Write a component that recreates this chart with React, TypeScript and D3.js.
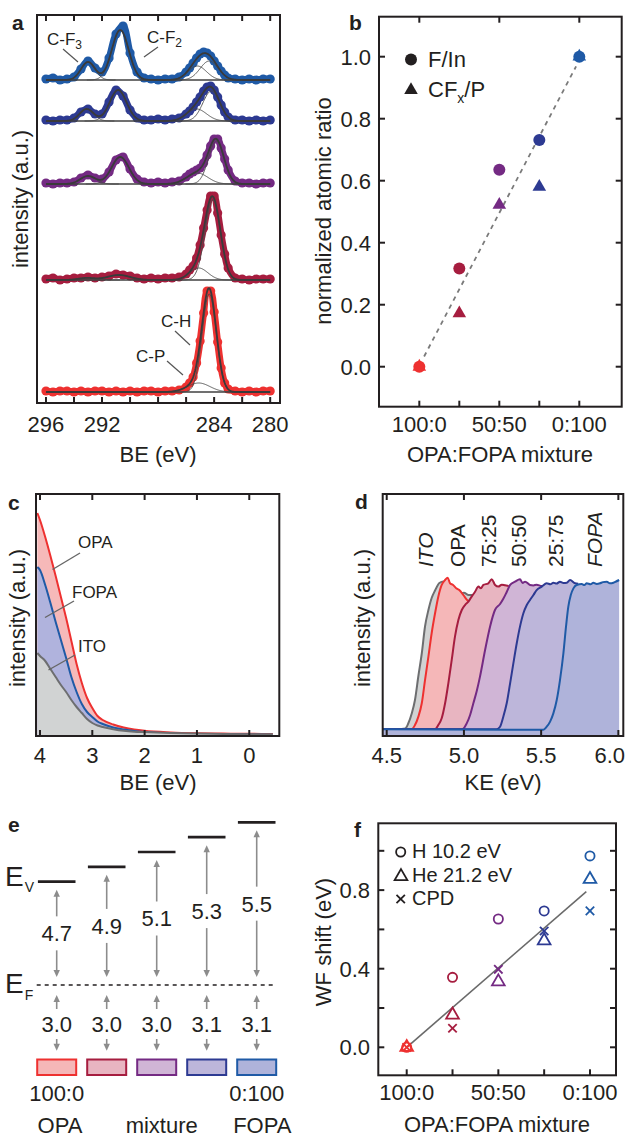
import React from 'react';
import * as d3 from 'd3';

const FONT = "'Liberation Sans', Arial, Helvetica, sans-serif";
const INK = '#231f20';

// ---------- shared colours (OPA -> FOPA) ----------
const seriesStroke = ['#ee3130', '#a61d3f', '#742a83', '#2d3a92', '#1f5aa6'];
const seriesFill = ['#f5b7b8', '#e8b5c1', '#d0b5d6', '#bdb6da', '#afb3da'];
const itoStroke = '#6d6e70';
const itoFill = '#d1d3d3';

// ---------- panel a : C1s XPS ----------
const beGrid = [296, 295.5, 295, 294.5, 294, 293.5, 293, 292.5, 292, 291.5, 291, 290.5, 290, 289.5, 289, 288.5, 288, 287.5, 287, 286.5, 286,
  285.75, 285.5, 285.25, 285, 284.75, 284.5, 284.25, 284, 283.75, 283.5, 283.25, 283, 282.5, 282, 281.5, 281, 280.5, 280];
const xpsFOPA = [1, 2, 0, 1, 3, 11, 19, 12, 8, 22, 46, 54, 27, 8, 2, 1, 0, 1, 1, 3, 8, 12, 17, 22, 26, 28, 27, 24, 19, 14, 9, 5, 2, 1, 0, 1, 0, 1, 1];
const xps2575 = [1, 0, 1, 1, 3, 9, 12, 7, 7, 19, 31, 25, 11, 3, 1, 1, 2, 1, 2, 3, 7, 10, 14, 19, 24, 30, 34, 35, 31, 24, 16, 9, 4, 1, 1, 0, 1, 0, 1];
const xps5050 = [1, 0, 1, 1, 2, 6, 9, 6, 5, 12, 24, 27, 15, 5, 2, 1, 2, 1, 2, 3, 7, 10, 12, 14, 16, 21, 29, 38, 45, 45, 36, 25, 14, 3, 1, 1, 0, 1, 1];
const xps7525 = [1, 2, 0, 1, 2, 2, 3, 2, 3, 4, 6, 5, 4, 2, 1, 2, 1, 2, 2, 3, 6, 10, 14, 22, 35, 52, 70, 84, 84, 67, 45, 26, 12, 2, 1, 0, 1, 1, 1];
const xpsOPA = [1, 0, 1, 1, 0, 1, 0, 1, 1, 0, 1, 0, 1, 0, 1, 1, 0, 1, 1, 2, 5, 9, 15, 29, 51, 79, 101, 101, 80, 50, 24, 9, 3, 1, 0, 1, 0, 1, 1];
// fit components: [centre eV, amplitude, sigma eV]
const fitFOPA = [[293.0, 18, 0.5], [290.7, 50, 0.6], [285.2, 14, 0.65], [284.35, 19, 0.65]];
const fit2575 = [[293.1, 12, 0.5], [290.85, 31, 0.6], [285.25, 12, 0.7], [284.2, 30, 0.6]];
const fit5050 = [[293.0, 8, 0.55], [290.7, 27, 0.62], [285.2, 11, 0.75], [283.85, 43, 0.55]];
const fit7525 = [[293.1, 2, 0.6], [290.8, 5, 0.8], [285.1, 12, 0.65], [284.1, 80, 0.55]];
const fitOPA = [[285.1, 9, 0.8], [284.35, 98, 0.5]];
const stackOffsets = [323, 282, 219, 123, 11];
const aTicks = [296, 294, 292, 290, 288, 286, 284, 282, 280];
const aTickLabels = [296, 292, 284, 280];

// ---------- panel b ----------
const mixPct = [0, 25, 50, 75, 100];
const fIn = [0.0, 0.317, 0.635, 0.731, 1.0];
const cfxP = [0.0, 0.172, 0.522, 0.58, 1.0];
const bFitX = [3, 98];
const bFitY = [0.033, 0.969];
const bYTicks = [0.0, 0.2, 0.4, 0.6, 0.8, 1.0];
const mixTickLabels = ['100:0', '50:50', '0:100'];
const mixLabelPct = [0, 50, 100];

// ---------- panel c : UPS valence ----------
const beC = [4.05, 4.0, 3.9, 3.8, 3.7, 3.6, 3.5, 3.4, 3.3, 3.2, 3.1, 3.0, 2.9, 2.8, 2.6, 2.4, 2.2, 2.0, 1.5, 1.0, 0.5, 0.0, -0.45];
const opaC = [223, 216, 199, 180, 160, 139, 118, 95, 72, 53, 38, 28, 20, 16, 11.5, 8.5, 6.5, 5.2, 3.6, 2.8, 2.4, 2.2, 2];
const fopaC = [169, 166, 151, 133, 114, 96, 78, 59, 44, 32, 24, 19, 14.5, 12, 8.5, 6.5, 5, 4, 2.6, 2, 1.7, 1.5, 1.3];
const itoC = [83, 80, 75, 67, 59, 51, 44, 36, 29, 23, 17, 13, 10.5, 9, 6.8, 5.2, 4.3, 3.9, 3, 2.4, 2.1, 1.8, 1.7];
const cTicks = [4, 3, 2, 1, 0];

// ---------- panel d : secondary electron cutoff ----------
const secoITO = [[4.474, 4.5], [4.55, 4.3], [4.6, 4.7], [4.62, 5], [4.64, 8.5], [4.662, 15], [4.683, 24], [4.705, 40], [4.727, 55], [4.748, 73], [4.77, 84], [4.791, 92], [4.813, 97], [4.841, 102], [4.867, 103], [4.889, 101], [4.93, 97], [4.97, 95], [5.0, 95.5], [5.03, 94], [5.06, 94]];
const secoOPA = [[4.474, 4.5], [4.6, 4.5], [4.662, 4.6], [4.683, 7.3], [4.705, 12.9], [4.727, 21.8], [4.748, 37.3], [4.77, 52.9], [4.791, 68.5], [4.813, 81.8], [4.834, 92.9], [4.856, 100.7], [4.878, 104], [4.895, 105.5], [4.91, 101.8], [4.93, 100.7], [4.95, 98.5], [4.97, 97.3], [4.996, 94], [5.02, 90.7], [5.04, 88.5], [5.06, 87]];
const seco7525 = [[4.474, 4.5], [4.813, 4.5], [4.834, 7.3], [4.856, 11.8], [4.878, 21.8], [4.899, 35.1], [4.921, 50.7], [4.942, 66.2], [4.964, 77.3], [4.986, 84], [5.007, 87.3], [5.029, 89.6], [5.05, 92.9], [5.072, 96.2], [5.094, 99.6], [5.11, 98.5], [5.126, 100.7], [5.158, 101.8], [5.18, 104.5], [5.202, 100.7], [5.223, 99.6], [5.245, 100.9], [5.266, 100.5], [5.29, 100]];
const seco5050 = [[4.474, 4.5], [4.99, 4.5], [5.018, 8.4], [5.04, 14], [5.061, 21.8], [5.083, 30], [5.104, 39.6], [5.137, 57.3], [5.169, 72.9], [5.201, 84], [5.234, 88], [5.255, 91.5], [5.277, 96], [5.299, 100.7], [5.331, 102.9], [5.363, 104.5], [5.38, 102], [5.396, 102.9], [5.428, 100.7], [5.45, 100.4], [5.471, 100.9], [5.504, 100], [5.52, 100]];
const seco2575 = [[4.474, 4.5], [5.212, 4.5], [5.234, 6.2], [5.255, 12.9], [5.277, 21.8], [5.299, 35.1], [5.32, 48.4], [5.342, 61.8], [5.363, 72.9], [5.385, 81.8], [5.407, 87.3], [5.428, 90.7], [5.45, 94], [5.471, 97.3], [5.504, 99.6], [5.536, 101.8], [5.56, 101.2], [5.579, 102.2], [5.6, 101.6], [5.622, 102.9], [5.645, 102], [5.666, 102.2], [5.687, 104], [5.72, 101.8], [5.74, 101.5]];
const secoFOPA = [[4.474, 4.5], [5.514, 4.2], [5.536, 6.2], [5.558, 9.6], [5.579, 15.1], [5.601, 24], [5.622, 37.3], [5.644, 55.1], [5.661, 72.9], [5.676, 86.2], [5.692, 94], [5.709, 98.4], [5.73, 100.7], [5.763, 101.3], [5.78, 100.6], [5.795, 101.8], [5.82, 101.2], [5.838, 102.2], [5.86, 101.4], [5.881, 101.8], [5.9, 102.6], [5.925, 102.9], [5.945, 101.8], [5.968, 102.2], [5.985, 103], [6.005, 104]];
const dTicks = [4.5, 5.0, 5.5, 6.0];
const dTickLabels = ['4.5', '5.0', '5.5', '6.0'];
const dLabels = ['ITO', 'OPA', '75:25', '50:50', '25:75', 'FOPA'];

// ---------- panel e : energy levels ----------
const eSamples = ['100:0', '75:25', '50:50', '25:75', '0:100'];
const workFunction = [4.7, 4.9, 5.1, 5.3, 5.5];
const vbmGap = [3.0, 3.0, 3.0, 3.1, 3.1];

// ---------- panel f : WF shift ----------
const wfH = [0.0, 0.356, 0.653, 0.694, 0.974];
const wfHe = [0.0, 0.165, 0.334, 0.543, 0.855];
const wfCPD = [0.0, 0.097, 0.397, 0.592, 0.694];
const fFitX = [0, 98];
const fFitY = [0.0, 0.792];
const fYTicks = [0.0, 0.2, 0.4, 0.6, 0.8, 1.0];
const fYTickLabels = [0.0, 0.4, 0.8];

const txt = { fontFamily: FONT, fill: INK };
const TL = 6;

function gauss(e: number, comps: number[][]) {
  return comps.reduce((s, [c, a, w]) => s + a * Math.exp(-((e - c) ** 2) / (2 * w * w)), 0);
}

const Box = ({ x0, y0, x1, y1 }: any) => (
  <rect x={x0} y={y0} width={x1 - x0} height={y1 - y0} fill="none" stroke={INK} strokeWidth={2} />
);

const XTicks = ({ scale, values, y0, y1, top = true, bottom = true }: any) => (
  <g stroke={INK} strokeWidth={2}>
    {values.map((v: number, i: number) => (
      <g key={i}>
        {top && <line x1={scale(v)} x2={scale(v)} y1={y0} y2={y0 + TL} />}
        {bottom && <line x1={scale(v)} x2={scale(v)} y1={y1} y2={y1 - TL} />}
      </g>
    ))}
  </g>
);

const YTicks = ({ scale, values, x0, x1 }: any) => (
  <g stroke={INK} strokeWidth={2}>
    {values.map((v: number, i: number) => (
      <g key={i}>
        <line x1={x0} x2={x0 + TL} y1={scale(v)} y2={scale(v)} />
        <line x1={x1} x2={x1 - TL} y1={scale(v)} y2={scale(v)} />
      </g>
    ))}
  </g>
);

function PanelA() {
  const x0 = 37, x1 = 280, y0 = 15, y1 = 403;
  const x = d3.scaleLinear().domain([296.64, 279.3]).range([x0, x1]);
  const y = d3.scaleLinear().domain([0, 388]).range([y1, y0]);
  const spectra = [xpsFOPA, xps2575, xps5050, xps7525, xpsOPA];
  const fits = [fitFOPA, fit2575, fit5050, fit7525, fitOPA];
  const colors = [seriesStroke[4], seriesStroke[3], seriesStroke[2], seriesStroke[1], seriesStroke[0]];
  const fine = d3.range(296, 279.999, -0.04);
  return (
    <g>
      {spectra.map((vals, i) => {
        const off = stackOffsets[i];
        const band = d3.line<number>().x((_, j) => x(beGrid[j])).y(v => y(off + v)).curve(d3.curveCatmullRom)(vals) || '';
        const total = d3.line<number>().x(e => x(e)).y(e => y(off + gauss(e, fits[i])))(fine) || '';
        return (
          <g key={i}>
            <path d={band} fill="none" stroke={colors[i]} strokeWidth={7} strokeLinejoin="round" strokeLinecap="round" />
            {vals.map((v, j) => <circle key={j} cx={x(beGrid[j])} cy={y(off + v)} r={4.6} fill={colors[i]} />)}
            <line x1={x(296)} x2={x(280)} y1={y(off)} y2={y(off)} stroke="#404040" strokeWidth={1.6} />
            {fits[i].map((c, k) => {
              const p = d3.line<number>().x(e => x(e)).y(e => y(off + gauss(e, [c])))(fine.filter(e => Math.abs(e - c[0]) < 4 * c[2])) || '';
              return <path key={k} d={p} fill="none" stroke="#4a4a4a" strokeWidth={0.9} />;
            })}
            <path d={total} fill="none" stroke="#3a3a3a" strokeWidth={1.8} />
          </g>
        );
      })}
      <Box x0={x0} y0={y0} x1={x1} y1={y1} />
      <XTicks scale={x} values={aTicks} y0={y0} y1={y1} />
      {aTickLabels.map(v => (
        <text key={v} x={x(v)} y={431.5} textAnchor="middle" fontSize={22} {...txt}>{v}</text>
      ))}
      <text x={158} y={462} textAnchor="middle" fontSize={22} {...txt}>BE (eV)</text>
      <text transform="translate(28,199) rotate(-90)" textAnchor="middle" fontSize={22} {...txt}>intensity (a.u.)</text>
      {/* peak labels */}
      <g fontSize={17} {...txt}>
        <text x={47} y={45}>C-F<tspan fontSize={12} dy={4}>3</tspan></text>
        <text x={147} y={43}>C-F<tspan fontSize={12} dy={4}>2</tspan></text>
        <text x={161} y={327}>C-H</text>
        <text x={136} y={362}>C-P</text>
      </g>
      <g stroke="#555" strokeWidth={1.2}>
        <line x1={63} y1={49} x2={78} y2={62} />
        <line x1={158} y1={47} x2={144} y2={57} />
        <line x1={175} y1={331} x2={190} y2={345} />
        <line x1={167} y1={361} x2={183} y2={375} />
      </g>
      <text x={12} y={30} fontSize={21} fontWeight="bold" {...txt}>a</text>
    </g>
  );
}

function PanelB() {
  const x0 = 379, x1 = 621.7, y0 = 16.7, y1 = 406.7;
  const x = d3.scaleLinear().domain([-25.2, 126.5]).range([x0, x1]);
  const y = d3.scaleLinear().domain([-0.129, 1.129]).range([y1, y0]);
  const tri = d3.symbol().type(d3.symbolTriangle).size(80)() || '';
  return (
    <g>
      <line x1={x(bFitX[0])} y1={y(bFitY[0])} x2={x(bFitX[1])} y2={y(bFitY[1])} stroke="#7a7a7a" strokeWidth={1.8} strokeDasharray="4.5,4.5" />
      {mixPct.map((p, i) => <circle key={'c' + i} cx={x(p)} cy={y(fIn[i])} r={6} fill={seriesStroke[i]} />)}
      {mixPct.map((p, i) => <path key={'t' + i} d={tri} transform={`translate(${x(p)},${y(cfxP[i])})`} fill={seriesStroke[i]} />)}
      <Box x0={x0} y0={y0} x1={x1} y1={y1} />
      <XTicks scale={x} values={mixPct} y0={y0} y1={y1} top={false} />
      <XTicks scale={x} values={mixLabelPct} y0={y0} y1={y1} bottom={false} />
      <YTicks scale={y} values={bYTicks} x0={x0} x1={x1} />
      {bYTicks.map(v => (
        <text key={v} x={371} y={y(v)} dy="0.36em" textAnchor="end" fontSize={22} {...txt}>{v.toFixed(1)}</text>
      ))}
      {mixLabelPct.map((p, i) => (
        <text key={p} x={x(p)} y={431.5} textAnchor="middle" fontSize={22} {...txt}>{mixTickLabels[i]}</text>
      ))}
      <text x={500} y={462} textAnchor="middle" fontSize={22} {...txt}>OPA:FOPA mixture</text>
      <text transform="translate(331,211) rotate(-90)" textAnchor="middle" fontSize={22} {...txt}>normalized atomic ratio</text>
      <circle cx={411} cy={59.5} r={6} fill={INK} />
      <text x={428} y={67} fontSize={22} {...txt}>F/In</text>
      <path d={tri} transform="translate(411,90)" fill={INK} />
      <text x={428} y={97} fontSize={22} {...txt}>CF<tspan fontSize={14} dy={6}>x</tspan><tspan dy={-6}>/P</tspan></text>
      <text x={349} y={30} fontSize={21} fontWeight="bold" {...txt}>b</text>
    </g>
  );
}

function PanelC() {
  const x0 = 36, x1 = 279.3, y0 = 494, y1 = 736;
  const x = d3.scaleLinear().domain([4.076, -0.574]).range([x0, x1]);
  const y = d3.scaleLinear().domain([0, 242]).range([y1, y0]);
  const curves = [
    { v: opaC, fill: '#f6b9b9', stroke: seriesStroke[0] },
    { v: fopaC, fill: '#b0b3dd', stroke: seriesStroke[4] },
    { v: itoC, fill: itoFill, stroke: itoStroke },
  ];
  return (
    <g>
      {curves.map((c, i) => {
        const area = d3.area<number>().x((_, j) => x(beC[j])).y0(y(0)).y1(v => y(v)).curve(d3.curveMonotoneX)(c.v) || '';
        const line = d3.line<number>().x((_, j) => x(beC[j])).y(v => y(v)).curve(d3.curveMonotoneX)(c.v) || '';
        return (
          <g key={i}>
            <path d={area} fill={c.fill} />
            <path d={line} fill="none" stroke={c.stroke} strokeWidth={2} />
          </g>
        );
      })}
      <Box x0={x0} y0={y0} x1={x1} y1={y1} />
      <XTicks scale={x} values={cTicks} y0={y0} y1={y1} />
      {cTicks.map(v => (
        <text key={v} x={x(v)} y={763} textAnchor="middle" fontSize={22} {...txt}>{v}</text>
      ))}
      <text x={158} y={790} textAnchor="middle" fontSize={22} {...txt}>BE (eV)</text>
      <text transform="translate(25,618) rotate(-90)" textAnchor="middle" fontSize={22} {...txt}>intensity (a.u.)</text>
      <g fontSize={17} {...txt}>
        <text x={78} y={548}>OPA</text>
        <text x={72} y={598}>FOPA</text>
        <text x={78} y={652}>ITO</text>
      </g>
      <g stroke="#666" strokeWidth={1.4}>
        <line x1={80} y1={553} x2={52.5} y2={569.5} />
        <line x1={74} y1={601} x2={45} y2={617.5} />
        <line x1={75} y1={655} x2={48.5} y2={670} />
      </g>
      <text x={8} y={510} fontSize={21} fontWeight="bold" {...txt}>c</text>
    </g>
  );
}

function PanelD() {
  const x0 = 382.7, x1 = 623.3, y0 = 494, y1 = 736;
  const x = d3.scaleLinear().domain([4.474, 6.032]).range([x0, x1]);
  const y = d3.scaleLinear().domain([0, 100]).range([y1, 586]);
  const curves = [
    { d: secoITO, fill: itoFill, stroke: itoStroke },
    { d: secoOPA, fill: seriesFill[0], stroke: seriesStroke[0] },
    { d: seco7525, fill: seriesFill[1], stroke: seriesStroke[1] },
    { d: seco5050, fill: seriesFill[2], stroke: seriesStroke[2] },
    { d: seco2575, fill: seriesFill[3], stroke: seriesStroke[3] },
    { d: secoFOPA, fill: seriesFill[4], stroke: seriesStroke[4] },
  ];
  const labelKE = [4.80, 5.007, 5.207, 5.402, 5.642, 5.893];
  return (
    <g>
      {curves.map((c, i) => {
        const area = d3.area<number[]>().x(p => x(p[0])).y0(y1).y1(p => y(p[1])).curve(d3.curveMonotoneX)(c.d) || '';
        const line = d3.line<number[]>().x(p => x(p[0])).y(p => y(p[1])).curve(d3.curveMonotoneX)(c.d) || '';
        return (
          <g key={i}>
            <path d={area} fill={c.fill} />
            <path d={line} fill="none" stroke={c.stroke} strokeWidth={2} strokeLinejoin="round" />
          </g>
        );
      })}
      <Box x0={x0} y0={y0} x1={x1} y1={y1} />
      <XTicks scale={x} values={dTicks} y0={y0} y1={y1} />
      {dTicks.map((v, i) => (
        i === dTicks.length - 1
          ? <text key={v} x={625} y={763} textAnchor="end" fontSize={22} {...txt}>{dTickLabels[i]}</text>
          : <text key={v} x={x(v)} y={763} textAnchor="middle" fontSize={22} {...txt}>{dTickLabels[i]}</text>
      ))}
      <text x={503} y={790} textAnchor="middle" fontSize={22} {...txt}>KE (eV)</text>
      <text transform="translate(370,618) rotate(-90)" textAnchor="middle" fontSize={22} {...txt}>intensity (a.u.)</text>
      {dLabels.map((l, i) => (
        <text key={l} transform={`translate(${x(labelKE[i])},567) rotate(-90)`} fontSize={21}
          fontStyle={l === 'ITO' || l === 'FOPA' ? 'italic' : 'normal'} {...txt}>{l}</text>
      ))}
      <text x={355} y={509} fontSize={21} fontWeight="bold" {...txt}>d</text>
    </g>
  );
}

const ArrowHead = ({ x, y, dir }: any) => (
  <path d={`M${x},${y} L${x - 3.2},${y - 7 * dir} L${x + 3.2},${y - 7 * dir} Z`} fill="#8c8c8c" />
);

function PanelE() {
  const x = d3.scalePoint<string>().domain(eSamples).range([56.7, 256.7]);
  const yLevel = d3.scaleLinear().domain([4.7, 5.5]).range([881.7, 822.3]);
  const yF = 985;
  return (
    <g>
      <line x1={36.7} x2={276.7} y1={yF} y2={yF} stroke={INK} strokeWidth={1.6} strokeDasharray="4,4" />
      {eSamples.map((s, i) => {
        const cx = x(s) as number;
        const ly = yLevel(workFunction[i]);
        const ty = (ly + yF) / 2;
        const topTip = ly + 8, botTip = yF - 8;
        const lTop = yF + 10, lBot = 1050.7, lty = 1024;
        return (
          <g key={s}>
            <line x1={cx - 18.8} x2={cx + 18.8} y1={ly} y2={ly} stroke={INK} strokeWidth={2.7} />
            <g stroke="#8c8c8c" strokeWidth={1.6}>
              <line x1={cx} x2={cx} y1={topTip + 6} y2={ty - 17} />
              <line x1={cx} x2={cx} y1={ty + 17} y2={botTip - 6} />
              <line x1={cx} x2={cx} y1={lTop + 6} y2={lty - 15} />
              <line x1={cx} x2={cx} y1={lty + 15} y2={lBot - 6} />
            </g>
            <ArrowHead x={cx} y={topTip} dir={-1} />
            <ArrowHead x={cx} y={botTip} dir={1} />
            <ArrowHead x={cx} y={lTop} dir={-1} />
            <ArrowHead x={cx} y={lBot} dir={1} />
            <text x={cx} y={ty} dy="0.36em" textAnchor="middle" fontSize={22} {...txt}>{workFunction[i].toFixed(1)}</text>
            <text x={cx} y={lty} dy="0.36em" textAnchor="middle" fontSize={22} {...txt}>{vbmGap[i].toFixed(1)}</text>
            <rect x={cx - 19.5} y={1059.5} width={39} height={15.5} fill={seriesFill[i]} stroke={seriesStroke[i]} strokeWidth={2} />
          </g>
        );
      })}
      <text x={x('100:0')} y={1101} textAnchor="middle" fontSize={22} {...txt}>100:0</text>
      <text x={x('0:100')} y={1101} textAnchor="middle" fontSize={22} {...txt}>0:100</text>
      <text x={60} y={1133} textAnchor="middle" fontSize={22} {...txt}>OPA</text>
      <text x={161.7} y={1133} textAnchor="middle" fontSize={22} {...txt}>mixture</text>
      <text x={262.3} y={1133} textAnchor="middle" fontSize={22} {...txt}>FOPA</text>
      <text x={5} y={886} fontSize={28} {...txt}>E<tspan fontSize={14} dx={1} dy={5.5}>V</tspan></text>
      <text x={5} y={993} fontSize={28} {...txt}>E<tspan fontSize={14} dx={1} dy={6.5}>F</tspan></text>
      <text x={8} y={832} fontSize={21} fontWeight="bold" {...txt}>e</text>
    </g>
  );
}

function PanelF() {
  const x0 = 378.3, x1 = 616, y0 = 823.3, y1 = 1075.3;
  const x = d3.scaleLinear().domain([-15.5, 114.2]).range([x0, x1]);
  const y = d3.scaleLinear().domain([-0.1425, 1.14]).range([y1, y0]);
  const tri = d3.symbol().type(d3.symbolTriangle).size(70)() || '';
  const cross = (cx: number, cy: number, col: string, k: string) => (
    <g key={k} stroke={col} strokeWidth={1.8}>
      <line x1={cx - 4.2} x2={cx + 4.2} y1={cy - 4.2} y2={cy + 4.2} />
      <line x1={cx - 4.2} x2={cx + 4.2} y1={cy + 4.2} y2={cy - 4.2} />
    </g>
  );
  return (
    <g>
      <line x1={x(fFitX[0])} y1={y(fFitY[0])} x2={x(fFitX[1])} y2={y(fFitY[1])} stroke="#6a6a6a" strokeWidth={1.6} />
      {mixPct.map((p, i) => <circle key={'h' + i} cx={x(p)} cy={y(wfH[i])} r={4.6} fill="none" stroke={seriesStroke[i]} strokeWidth={1.8} />)}
      {mixPct.map((p, i) => <path key={'t' + i} d={tri} transform={`translate(${x(p)},${y(wfHe[i])})`} fill="none" stroke={seriesStroke[i]} strokeWidth={1.8} />)}
      {mixPct.map((p, i) => cross(x(p), y(wfCPD[i]), seriesStroke[i], 'x' + i))}
      <Box x0={x0} y0={y0} x1={x1} y1={y1} />
      <XTicks scale={x} values={mixPct} y0={y0} y1={y1} top={false} />
      <YTicks scale={y} values={fYTicks} x0={x0} x1={x1} />
      {fYTickLabels.map(v => (
        <text key={v} x={370} y={y(v)} dy="0.36em" textAnchor="end" fontSize={22} {...txt}>{v.toFixed(1)}</text>
      ))}
      {mixLabelPct.map((p, i) => (
        <text key={p} x={x(p)} y={1100} textAnchor="middle" fontSize={22} {...txt}>{mixTickLabels[i]}</text>
      ))}
      <text x={497} y={1132} textAnchor="middle" fontSize={22} {...txt}>OPA:FOPA mixture</text>
      <text transform="translate(331,942) rotate(-90)" textAnchor="middle" fontSize={22} {...txt}>WF shift (eV)</text>
      <circle cx={400.7} cy={852} r={4.6} fill="none" stroke={INK} strokeWidth={1.8} />
      <text x={412} y={858} fontSize={20} {...txt}>H 10.2 eV</text>
      <path d={tri} transform="translate(401,876.5)" fill="none" stroke={INK} strokeWidth={1.8} />
      <text x={412} y={881.7} fontSize={20} {...txt}>He 21.2 eV</text>
      {cross(400.7, 899, INK, 'lx')}
      <text x={412} y={905} fontSize={20} {...txt}>CPD</text>
      <text x={354} y={837} fontSize={21} fontWeight="bold" {...txt}>f</text>
    </g>
  );
}

export default function App() {
  return (
    <svg width={628} height={1137} viewBox="0 0 628 1137"
      style={{ position: 'absolute', left: 0, top: 0, background: '#fff' }}>
      <rect x={0} y={0} width={628} height={1137} fill="#fff" />
      <PanelA />
      <PanelB />
      <PanelC />
      <PanelD />
      <PanelE />
      <PanelF />
    </svg>
  );
}
